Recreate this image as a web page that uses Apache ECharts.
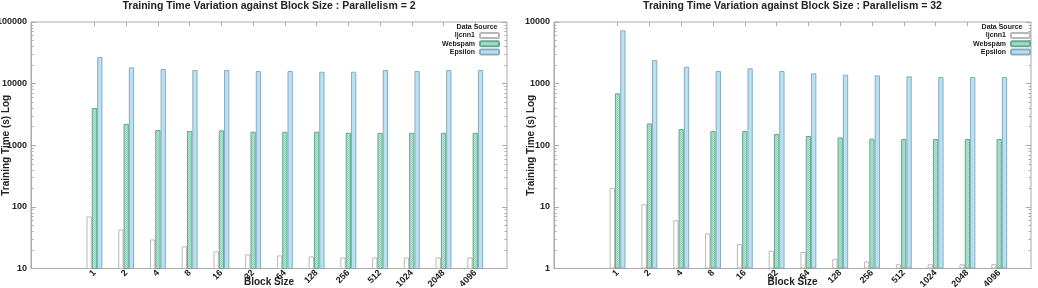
<!DOCTYPE html>
<html>
<head>
<meta charset="utf-8">
<script src="https://cdn.jsdelivr.net/npm/echarts@6/dist/echarts.min.js"></script>
<style>
html,body{margin:0;padding:0;background:#fff;}
#c{width:1038px;height:288px;}
</style>
</head>
<body>
<div id="c"></div>
<script>
// ---- data ----
const blockSizes = ['1','2','4','8','16','32','64','128','256','512','1024','2048','4096'];
const seriesNames = ['ljcnn1','Webspam','Epsilon'];
const p2_ljcnn1  = [70, 43, 29.6, 22.9, 19, 17, 16.3, 15.7, 15.1, 15.1, 15.1, 15.1, 15.1];
const p2_webspam = [4020, 2230, 1766, 1700, 1745, 1656, 1656, 1656, 1596, 1596, 1596, 1596, 1596];
const p2_epsilon = [27000, 18400, 17300, 16600, 16600, 16000, 16000, 15600, 15600, 16600, 16000, 16600, 16600];
const p32_ljcnn1  = [20.4, 11, 6.04, 3.72, 2.49, 1.94, 1.85, 1.44, 1.30, 1.17, 1.17, 1.17, 1.17];
const p32_webspam = [695, 226, 183, 170, 170, 152, 141, 134, 128, 126, 126, 126, 126];
const p32_epsilon = [7330, 2415, 1883, 1602, 1770, 1602, 1469, 1396, 1361, 1312, 1280, 1280, 1280];
const yTicksLeft  = [10, 100, 1000, 10000, 100000];
const yTicksRight = [1, 10, 100, 1000, 10000];
const titleLeft = 'Training Time Variation against Block Size : Parallelism = 2';
const titleRight = 'Training Time Variation against Block Size : Parallelism = 32';
const yName = 'Training Time (s) Log';
const xName = 'Block Size';
const legendTitle = 'Data Source';

const catIdx = blockSizes.map((_, i) => i);
function pts(arr){ return arr.map((v, i) => [i, v]); }
function minorTicks(decades){
  const out = [];
  for (let k = 0; k < decades.length - 1; k++)
    for (let m = 2; m <= 9; m++) out.push(decades[k] * m);
  return out;
}

// checker pattern for Webspam
const pc = document.createElement('canvas');
pc.width = 2; pc.height = 2;
const pctx = pc.getContext('2d');
pctx.fillStyle = '#b8e9d6'; pctx.fillRect(0,0,2,2);
pctx.fillStyle = '#86d3b5'; pctx.fillRect(0,0,1,1); pctx.fillRect(1,1,1,1);
const webPattern = {image: pc, repeat: 'repeat'};

const FONT = 'Liberation Sans';
const AX = '#aaaaaa';
const TXT = '#222222';
const styles = {
  ljcnn1: {color:'#ffffff', borderColor:'#b8b8b8', borderWidth:1},
  Webspam: {color: webPattern, borderColor:'#67a890', borderWidth:1},
  Epsilon: {color:'#b9e1f4', borderColor:'#8aabbd', borderWidth:1}
};

const grids = [
  {left:31, right:531, top:22, bottom:19.5, show:true, borderColor:AX, borderWidth:1, outerBoundsMode:'none', containLabel:false},
  {left:554, right:7, top:22, bottom:19.5, show:true, borderColor:AX, borderWidth:1, outerBoundsMode:'none', containLabel:false}
];

function xAxes(gi){
  return [
    {type:'value', gridIndex:gi, min:-2, max:13, position:'bottom',
     splitLine:{show:false},
     axisLine:{show:true, onZero:false, lineStyle:{color:AX}},
     axisTick:{show:true, inside:true, length:4, customValues:catIdx, lineStyle:{color:AX}},
     axisLabel:{customValues:catIdx, rotate:45, margin:3, formatter:(v) => blockSizes[v] ?? '',
                fontFamily:FONT, fontWeight:'bold', fontSize:9, color:TXT},
     name:xName, nameLocation:'middle', nameGap:9, nameMoveOverlap:false,
     nameTextStyle:{fontFamily:FONT, fontWeight:'bold', fontSize:10, color:TXT, verticalAlign:'top'}},
    {type:'value', gridIndex:gi, min:-2, max:13, position:'top',
     splitLine:{show:false}, axisLine:{show:false, onZero:false},
     axisTick:{show:true, inside:true, length:4, customValues:catIdx, lineStyle:{color:AX}},
     axisLabel:{show:false}}
  ];
}
function yAxes(gi, decades, gap){
  const min = decades[0], max = decades[decades.length - 1];
  const base = {type:'log', logBase:10, gridIndex:gi, min:min, max:max, splitLine:{show:false}};
  return [
    Object.assign({}, base, {position:'left',
     axisLine:{show:true, onZero:false, lineStyle:{color:AX}},
     axisTick:{show:true, inside:true, length:5, customValues:decades, lineStyle:{color:AX}},
     axisLabel:{margin:4, customValues:decades, formatter:(v) => String(Math.round(v)),
                fontFamily:FONT, fontWeight:'bold', fontSize:9, color:TXT},
     name:yName, nameLocation:'middle', nameGap:gap, nameMoveOverlap:false,
     nameTextStyle:{fontFamily:FONT, fontWeight:'bold', fontSize:10, color:TXT}}),
    Object.assign({}, base, {position:'right',
     axisLine:{show:false, onZero:false},
     axisTick:{show:true, inside:true, length:5, customValues:decades, lineStyle:{color:AX}},
     axisLabel:{show:false}}),
    Object.assign({}, base, {position:'left',
     axisLine:{show:false, onZero:false},
     axisTick:{show:true, inside:true, length:2.5, customValues:minorTicks(decades), lineStyle:{color:AX}},
     axisLabel:{show:false}}),
    Object.assign({}, base, {position:'right',
     axisLine:{show:false, onZero:false},
     axisTick:{show:true, inside:true, length:2.5, customValues:minorTicks(decades), lineStyle:{color:AX}},
     axisLabel:{show:false}})
  ];
}

const xAxis = xAxes(0).concat(xAxes(1));
const yAxis = yAxes(0, yTicksLeft, 20).concat(yAxes(1, yTicksRight, 18));

function bar(name, data, xi, yi){
  return {type:'bar', name:name, xAxisIndex:xi, yAxisIndex:yi, data:pts(data),
          barWidth:5.3, barGap:'0%', itemStyle:styles[name], emphasis:{disabled:true}, animation:false};
}
const series = [
  bar('ljcnn1', p2_ljcnn1, 0, 0), bar('Webspam', p2_webspam, 0, 0), bar('Epsilon', p2_epsilon, 0, 0),
  bar('ljcnn1', p32_ljcnn1, 2, 4), bar('Webspam', p32_webspam, 2, 4), bar('Epsilon', p32_epsilon, 2, 4)
];

function legend(right){
  return {data:seriesNames, orient:'vertical', align:'right', right:right, top:31.5,
          itemWidth:19, itemHeight:5, itemGap:0.3, selectedMode:false,
          textStyle:{fontFamily:FONT, fontWeight:'bold', fontSize:7, color:TXT, lineHeight:8, padding:[0,0,0,0]},
          padding:0};
}

const titleStyle = {fontFamily:FONT, fontWeight:'bold', fontSize:10.5, color:TXT};
const legTitleStyle = {fontFamily:FONT, fontWeight:'bold', fontSize:7, color:TXT};
const option = {
  animation:false,
  backgroundColor:'#fff',
  title:[
    {text:titleLeft, left:269, top:1, textAlign:'center', textStyle:titleStyle, padding:0},
    {text:titleRight, left:792.5, top:1, textAlign:'center', textStyle:titleStyle, padding:0},
    {text:legendTitle, left:477, top:23.5, textAlign:'center', textStyle:legTitleStyle, padding:0},
    {text:legendTitle, left:1002, top:23.5, textAlign:'center', textStyle:legTitleStyle, padding:0}
  ],
  legend:[legend(1038-500), legend(7)],
  grid:grids,
  xAxis:xAxis,
  yAxis:yAxis,
  series:series
};
const chart = echarts.init(document.getElementById('c'), null, {renderer:'canvas'});
chart.setOption(option);
</script>
</body>
</html>
